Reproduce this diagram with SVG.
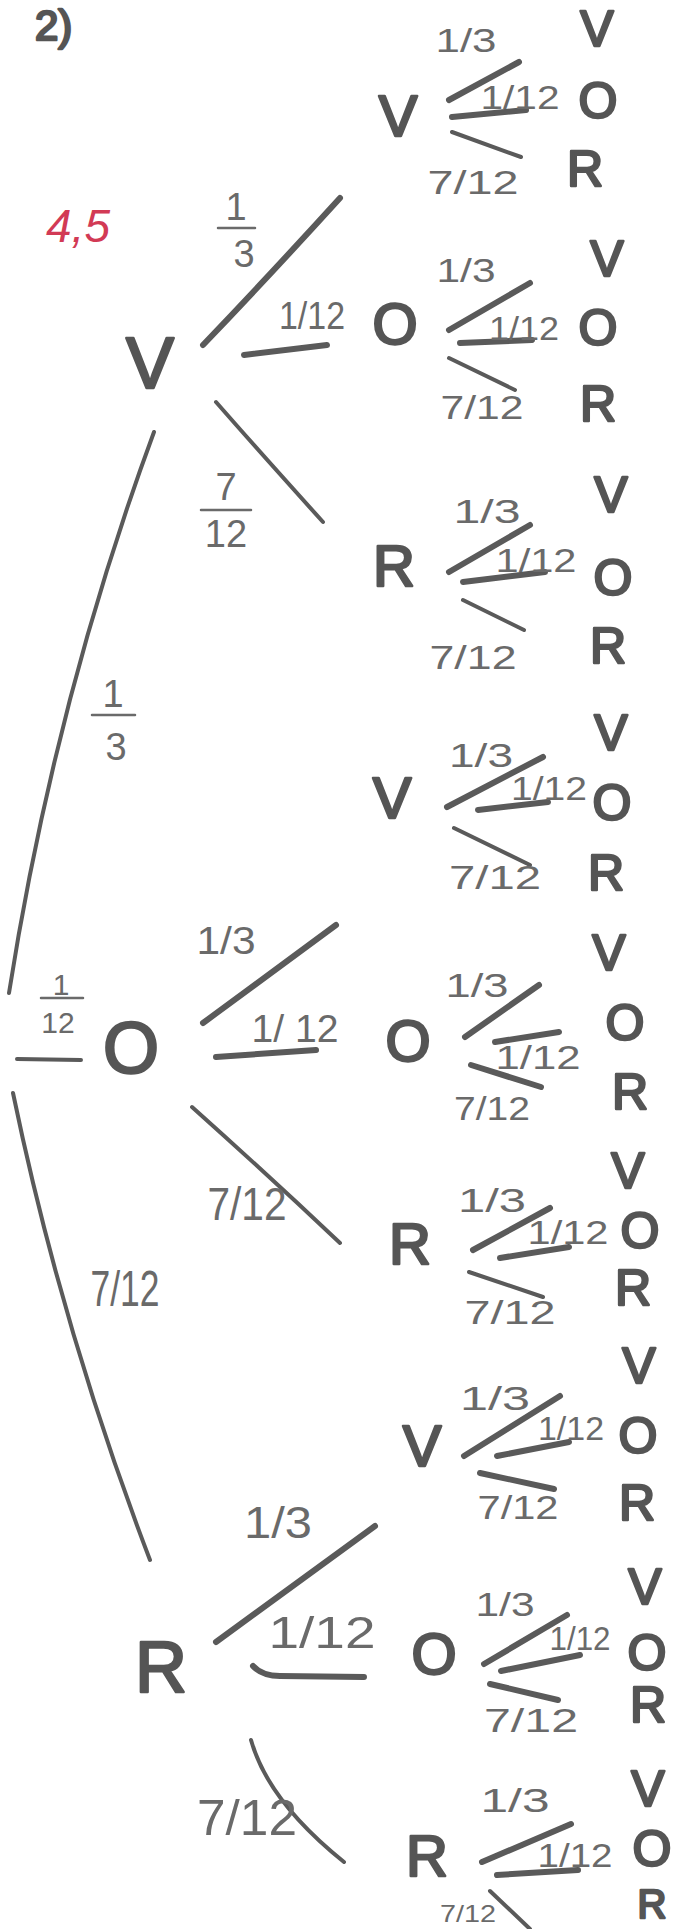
<svg xmlns="http://www.w3.org/2000/svg" width="682" height="1929" viewBox="0 0 682 1929">
<style>
.bg{fill:#ffffff}
.n{font-family:"Liberation Sans",Arial,sans-serif;fill:#555;stroke:#555;stroke-width:2.5;text-anchor:middle;stroke-linejoin:round}
.n1{font-size:72px}
.n2{font-size:58px}
.lf{font-size:50px}
.fr{font-family:"Liberation Sans",Arial,sans-serif;font-size:34px;fill:#6a6a6a;text-anchor:middle}
.fs{font-family:"Liberation Sans",Arial,sans-serif;font-size:38px;fill:#6a6a6a;text-anchor:middle}
.br{stroke:#5a5a5a;stroke-width:6;stroke-linecap:round;fill:none}
.b1{stroke-width:4}
.bar{stroke:#6a6a6a;stroke-width:2.5;stroke-linecap:round}
.red{font-family:"Liberation Sans",Arial,sans-serif;font-size:46px;fill:#d23a55;font-style:italic}
</style>
<rect class="bg" x="0" y="0" width="682" height="1929"/>
<text id="title" x="35" y="40" class="n" style="font-size:42px;text-anchor:start">2)</text>
<text id="mark" x="78" y="242" class="red" text-anchor="middle">4,5</text>

<g id="connectors">
  <path class="br b1" d="M9,993 Q55,700 154,432"/>
  <path class="br b1" d="M13,1093 Q62,1330 150,1560"/>
  <line class="br b1" x1="17" y1="1059" x2="81" y2="1060"/>
  <path class="br" d="M203,345 Q270,275 340,198"/>
  <line class="br" x1="244" y1="355" x2="327" y2="345"/>
  <path class="br b1" d="M216,402 Q258,450 323,522"/>
  <line class="br" x1="203" y1="1023" x2="336" y2="925"/>
  <line class="br" x1="216" y1="1057" x2="316" y2="1050"/>
  <path class="br b1" d="M192,1107 Q268,1175 340,1243"/>
  <line class="br" x1="216" y1="1642" x2="375" y2="1526"/>
  <path class="br" d="M253,1666 Q262,1676 280,1676 L364,1677"/>
  <path class="br b1" d="M251,1740 Q268,1801 344,1862"/>

  <line class="br" x1="449" y1="100" x2="519" y2="62"/>
  <line class="br" x1="452" y1="117" x2="526" y2="110"/>
  <line class="br b1" x1="452" y1="132" x2="521" y2="157"/>

  <line class="br" x1="449" y1="330" x2="530" y2="283"/>
  <line class="br" x1="460" y1="343" x2="532" y2="340"/>
  <line class="br b1" x1="449" y1="358" x2="515" y2="390"/>

  <line class="br" x1="449" y1="572" x2="530" y2="525"/>
  <line class="br" x1="463" y1="582" x2="545" y2="572"/>
  <line class="br b1" x1="463" y1="600" x2="524" y2="630"/>

  <line class="br" x1="447" y1="807" x2="543" y2="757"/>
  <line class="br" x1="478" y1="810" x2="548" y2="802"/>
  <line class="br b1" x1="454" y1="828" x2="530" y2="865"/>

  <line class="br" x1="465" y1="1037" x2="539" y2="985"/>
  <line class="br" x1="495" y1="1042" x2="559" y2="1032"/>
  <line class="br" x1="471" y1="1065" x2="541" y2="1087"/>

  <line class="br" x1="473" y1="1250" x2="550" y2="1208"/>
  <line class="br" x1="500" y1="1258" x2="569" y2="1247"/>
  <line class="br b1" x1="469" y1="1272" x2="543" y2="1297"/>

  <line class="br" x1="464" y1="1456" x2="560" y2="1396"/>
  <line class="br" x1="497" y1="1456" x2="569" y2="1442"/>
  <line class="br" x1="480" y1="1473" x2="554" y2="1489"/>

  <line class="br" x1="484" y1="1664" x2="567" y2="1615"/>
  <line class="br" x1="501" y1="1671" x2="580" y2="1655"/>
  <line class="br" x1="490" y1="1684" x2="558" y2="1700"/>

  <line class="br" x1="482" y1="1862" x2="571" y2="1824"/>
  <line class="br" x1="497" y1="1875" x2="578" y2="1870"/>
  <line class="br b1" x1="490" y1="1891" x2="530" y2="1929"/>
</g>

<g id="labels">
  <text class="fs" x="113" y="707">1</text>
  <line class="bar" x1="92" y1="715" x2="135" y2="715"/>
  <text class="fs" x="116" y="760">3</text>

  <text class="fs" x="61" y="995" style="font-size:30px">1</text>
  <line class="bar" x1="41" y1="998" x2="83" y2="998"/>
  <text class="fs" x="58" y="1033" style="font-size:30px">12</text>

  <text class="fs" x="236" y="220">1</text>
  <line class="bar" x1="218" y1="228" x2="255" y2="228"/>
  <text class="fs" x="244" y="267">3</text>

  <text class="fs" x="226" y="500">7</text>
  <line class="bar" x1="201" y1="510" x2="251" y2="510"/>
  <text class="fs" x="226" y="547">12</text>

  <text class="fs" x="312" y="329" textLength="66" lengthAdjust="spacingAndGlyphs">1/12</text>
  <text class="fs" x="226" y="954" textLength="59" lengthAdjust="spacingAndGlyphs">1/3</text>
  <text class="fs" x="295" y="1042" textLength="87" lengthAdjust="spacingAndGlyphs">1/ 12</text>
  <text class="fs" x="247" y="1220" style="font-size:46px" textLength="79" lengthAdjust="spacingAndGlyphs">7/12</text>
  <text class="fs" x="125" y="1306" style="font-size:50px" textLength="69" lengthAdjust="spacingAndGlyphs">7/12</text>
  <text class="fs" x="278" y="1538" style="font-size:44px" textLength="68" lengthAdjust="spacingAndGlyphs">1/3</text>
  <text class="fs" x="322" y="1648" style="font-size:44px" textLength="107" lengthAdjust="spacingAndGlyphs">1/12</text>
  <text class="fs" x="247" y="1835" style="font-size:50px" textLength="100" lengthAdjust="spacingAndGlyphs">7/12</text>

  <text class="fr" x="466" y="52" textLength="61" lengthAdjust="spacingAndGlyphs">1/3</text>
  <text class="fr" x="520" y="109" textLength="79" lengthAdjust="spacingAndGlyphs">1/12</text>
  <text class="fr" x="473" y="194" textLength="91" lengthAdjust="spacingAndGlyphs">7/12</text>

  <text class="fr" x="466" y="282" textLength="59" lengthAdjust="spacingAndGlyphs">1/3</text>
  <text class="fr" x="524" y="340" textLength="70" lengthAdjust="spacingAndGlyphs">1/12</text>
  <text class="fr" x="482" y="419" textLength="83" lengthAdjust="spacingAndGlyphs">7/12</text>

  <text class="fr" x="487" y="523" textLength="67" lengthAdjust="spacingAndGlyphs">1/3</text>
  <text class="fr" x="536" y="572" textLength="81" lengthAdjust="spacingAndGlyphs">1/12</text>
  <text class="fr" x="473" y="669" textLength="87" lengthAdjust="spacingAndGlyphs">7/12</text>

  <text class="fr" x="481" y="767" textLength="64" lengthAdjust="spacingAndGlyphs">1/3</text>
  <text class="fr" x="549" y="800" textLength="76" lengthAdjust="spacingAndGlyphs">1/12</text>
  <text class="fr" x="495" y="889" textLength="92" lengthAdjust="spacingAndGlyphs">7/12</text>

  <text class="fr" x="477" y="997" textLength="63" lengthAdjust="spacingAndGlyphs">1/3</text>
  <text class="fr" x="538" y="1069" textLength="85" lengthAdjust="spacingAndGlyphs">1/12</text>
  <text class="fr" x="492" y="1120" textLength="76" lengthAdjust="spacingAndGlyphs">7/12</text>

  <text class="fr" x="492" y="1212" textLength="68" lengthAdjust="spacingAndGlyphs">1/3</text>
  <text class="fr" x="568" y="1244" textLength="81" lengthAdjust="spacingAndGlyphs">1/12</text>
  <text class="fr" x="510" y="1324" textLength="91" lengthAdjust="spacingAndGlyphs">7/12</text>

  <text class="fr" x="495" y="1410" textLength="70" lengthAdjust="spacingAndGlyphs">1/3</text>
  <text class="fr" x="571" y="1440" textLength="66" lengthAdjust="spacingAndGlyphs">1/12</text>
  <text class="fr" x="518" y="1519" textLength="81" lengthAdjust="spacingAndGlyphs">7/12</text>

  <text class="fr" x="505" y="1616" textLength="59" lengthAdjust="spacingAndGlyphs">1/3</text>
  <text class="fr" x="580" y="1650" textLength="61" lengthAdjust="spacingAndGlyphs">1/12</text>
  <text class="fr" x="531" y="1732" textLength="94" lengthAdjust="spacingAndGlyphs">7/12</text>

  <text class="fr" x="515" y="1812" textLength="69" lengthAdjust="spacingAndGlyphs">1/3</text>
  <text class="fr" x="575" y="1867" textLength="75" lengthAdjust="spacingAndGlyphs">1/12</text>
  <text class="fr" x="468" y="1922" style="font-size:24px" textLength="56" lengthAdjust="spacingAndGlyphs">7/12</text>
</g>

<g id="node-V"><text class="n n1" x="150" y="388">V</text></g>
<g id="node-O"><text class="n n1" x="131" y="1073">O</text></g>
<g id="node-R"><text class="n n1" x="161" y="1692">R</text></g>

<g id="node-VV"><text class="n n2" x="398" y="136">V</text></g>
<g id="node-VO"><text class="n n2" x="395" y="344">O</text></g>
<g id="node-VR"><text class="n n2" x="394" y="586">R</text></g>
<g id="node-OV"><text class="n n2" x="392" y="818">V</text></g>
<g id="node-OO"><text class="n n2" x="408" y="1061">O</text></g>
<g id="node-OR"><text class="n n2" x="410" y="1264">R</text></g>
<g id="node-RV"><text class="n n2" x="422" y="1466">V</text></g>
<g id="node-RO"><text class="n n2" x="434" y="1674">O</text></g>
<g id="node-RR"><text class="n n2" x="427" y="1876">R</text></g>

<g id="leaves-VV"><text class="n lf" x="597" y="46">V</text><text class="n lf" x="598" y="118">O</text><text class="n lf" x="585" y="186">R</text></g>
<g id="leaves-VO"><text class="n lf" x="607" y="276">V</text><text class="n lf" x="598" y="345">O</text><text class="n lf" x="598" y="421">R</text></g>
<g id="leaves-VR"><text class="n lf" x="611" y="512">V</text><text class="n lf" x="613" y="595">O</text><text class="n lf" x="608" y="663">R</text></g>
<g id="leaves-OV"><text class="n lf" x="611" y="750">V</text><text class="n lf" x="612" y="820">O</text><text class="n lf" x="606" y="890">R</text></g>
<g id="leaves-OO"><text class="n lf" x="609" y="970">V</text><text class="n lf" x="625" y="1040">O</text><text class="n lf" x="630" y="1109">R</text></g>
<g id="leaves-OR"><text class="n lf" x="628" y="1188">V</text><text class="n lf" x="640" y="1248">O</text><text class="n lf" x="633" y="1305">R</text></g>
<g id="leaves-RV"><text class="n lf" x="639" y="1383">V</text><text class="n lf" x="638" y="1453">O</text><text class="n lf" x="637" y="1520">R</text></g>
<g id="leaves-RO"><text class="n lf" x="645" y="1604">V</text><text class="n lf" x="647" y="1670">O</text><text class="n lf" x="648" y="1722">R</text></g>
<g id="leaves-RR"><text class="n lf" x="648" y="1806">V</text><text class="n lf" x="652" y="1866">O</text><text class="n lf" x="652" y="1918" style="font-size:40px">R</text></g>
</svg>
